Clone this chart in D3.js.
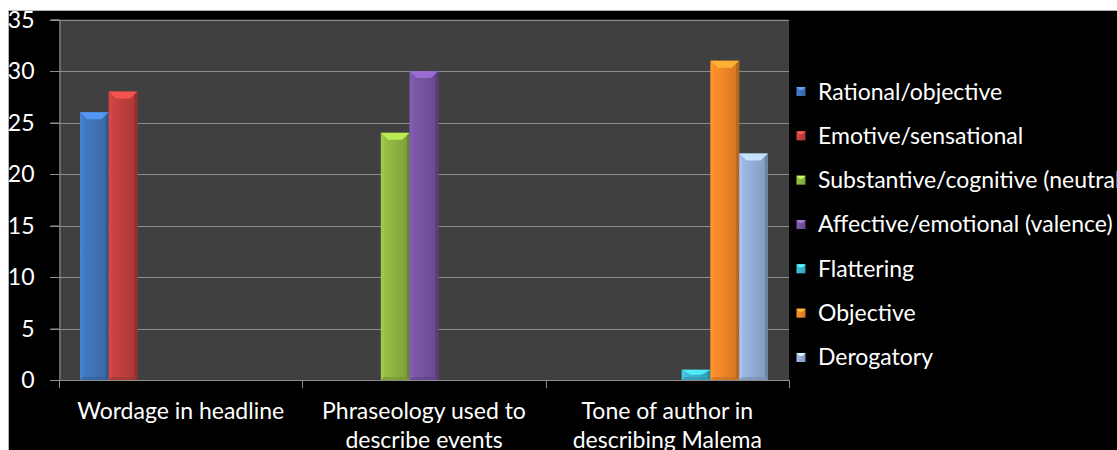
<!DOCTYPE html>
<html>
<head>
<meta charset="utf-8">
<script src="https://cdn.jsdelivr.net/npm/d3@7"></script>
<style>
  html, body { margin: 0; padding: 0; background: #fff; }
  svg { display: block; }
  text { font-family: Lato, "Open Sans", sans-serif; fill: #fff; }
</style>
</head>
<body>
<svg id="chart" width="1117" height="450"></svg>
<script>
// Categories (x-axis groups), each split into two lines
const categories = [
  ["Wordage in headline"],
  ["Phraseology used to", "describe events"],
  ["Tone of author in", "describing Malema"]
];
const categoryKeys = ["Wordage", "Phraseology", "Tone"];

// Series names (legend order)
const seriesNames = [
  "Rational/objective",
  "Emotive/sensational",
  "Substantive/cognitive (neutral)",
  "Affective/emotional (valence)",
  "Flattering",
  "Objective",
  "Derogatory"
];
const seriesColors = ["#3f73b8", "#bf3f3d", "#8db33f", "#7453a0", "#3cb2d0", "#ee8527", "#93acd6"];

// Values per series, one entry per category (null = no bar)
const rationalObjective    = [26, null, null];
const emotiveSensational   = [28, null, null];
const substantiveCognitive = [null, 24, null];
const affectiveEmotional   = [null, 30, null];
const flattering           = [null, null, 1];
const objective            = [null, null, 31];
const derogatory           = [null, null, 22];
const seriesValues = [rationalObjective, emotiveSensational, substantiveCognitive,
                      affectiveEmotional, flattering, objective, derogatory];

const yTicks = [0, 5, 10, 15, 20, 25, 30, 35];

const svg = d3.select("#chart");
const W = 1117, H = 450;
const FS = 23;

// black chart background framed by a thin grey border
svg.append("rect").attr("x", 8.5).attr("y", 10.5).attr("width", W).attr("height", H)
  .attr("fill", "#000").attr("stroke", "#b4b4b4").attr("stroke-width", 1);

const plot = { left: 59, right: 789, top: 19.5, bottom: 380 };

const y = d3.scaleLinear().domain([0, 35]).range([plot.bottom, plot.top]);
const x0 = d3.scaleBand().domain(categoryKeys).range([plot.left, plot.right]).padding(0);
const bw = x0.bandwidth();
const gap = 21;
const x1 = d3.scaleBand().domain(d3.range(seriesNames.length)).range([gap, bw - gap]).padding(0);

// plot area
svg.append("rect")
  .attr("x", plot.left).attr("y", plot.top)
  .attr("width", plot.right - plot.left).attr("height", plot.bottom - plot.top)
  .attr("fill", "#404040");

// horizontal gridlines
svg.append("g")
  .selectAll("line").data(yTicks.filter(t => t > 0)).join("line")
  .attr("x1", plot.left - 9).attr("x2", plot.right)
  .attr("y1", d => Math.round(y(d)) + 0.5).attr("y2", d => Math.round(y(d)) + 0.5)
  .attr("stroke", "#8e8e8e").attr("stroke-width", 1);

// y axis
const yAxis = svg.append("g").attr("transform", `translate(${plot.left + 0.5},0)`)
  .call(d3.axisLeft(y).tickValues(yTicks).tickSize(9).tickPadding(16));
yAxis.select(".domain").attr("stroke", "#8e8e8e");
yAxis.selectAll(".tick line").attr("stroke", "#8e8e8e");
yAxis.selectAll(".tick text").attr("font-size", FS).attr("fill", "#fff")
  .attr("font-family", "Lato, sans-serif").attr("dy", "0.34em");

// x axis with category boundary ticks
const xAxisG = svg.append("g");
xAxisG.append("line")
  .attr("x1", plot.left - 9).attr("x2", plot.right + 0.5)
  .attr("y1", plot.bottom + 0.5).attr("y2", plot.bottom + 0.5)
  .attr("stroke", "#8e8e8e");
const bounds = categoryKeys.map(k => x0(k)).concat([x0(categoryKeys[categoryKeys.length - 1]) + bw]);
xAxisG.selectAll("line.tk").data(bounds).join("line").attr("class", "tk")
  .attr("x1", d => Math.round(d) + 0.5).attr("x2", d => Math.round(d) + 0.5)
  .attr("y1", plot.bottom).attr("y2", plot.bottom + 8)
  .attr("stroke", "#8e8e8e");

// category labels
categoryKeys.forEach((k, i) => {
  const t = svg.append("text")
    .attr("x", x0(k) + bw / 2).attr("y", 419)
    .attr("text-anchor", "middle").attr("font-size", FS);
  categories[i].forEach((line, j) => {
    t.append("tspan").attr("x", x0(k) + bw / 2).attr("dy", j === 0 ? 0 : 29).text(line);
  });
});

// gradients for bevelled bars
const defs = svg.append("defs");
seriesColors.forEach((c, i) => {
  const g = defs.append("linearGradient").attr("id", "grad" + i)
    .attr("x1", "0%").attr("x2", "100%").attr("y1", "0%").attr("y2", "0%");
  const base = d3.color(c);
  g.append("stop").attr("offset", "0%").attr("stop-color", base.brighter(0.25));
  g.append("stop").attr("offset", "45%").attr("stop-color", base);
  g.append("stop").attr("offset", "100%").attr("stop-color", base.darker(0.35));
});

function bevelBar(sel, x, yTop, w, h, i) {
  const base = d3.color(seriesColors[i]);
  const b = Math.min(7, h / 2, w / 2);
  const g = sel.append("g").attr("transform", `translate(${x},${yTop})`);
  g.append("rect").attr("width", w).attr("height", h).attr("fill", `url(#grad${i})`);
  // top face
  g.append("path").attr("d", `M0,0 L${w},0 L${w / 2 + b},${b} L${w / 2 - b},${b} Z`)
    .attr("fill", base.brighter(0.9)).attr("opacity", 0.85);
  // left / right edges
  g.append("path").attr("d", `M0,0 L3,3 L3,${h - 3} L0,${h} Z`).attr("fill", base.brighter(0.4)).attr("opacity", 0.6);
  g.append("path").attr("d", `M${w},0 L${w - 3},3 L${w - 3},${h - 3} L${w},${h} Z`).attr("fill", base.darker(1)).attr("opacity", 0.7);
  // bottom edge
  g.append("path").attr("d", `M0,${h} L3,${h - 3} L${w - 3},${h - 3} L${w},${h} Z`).attr("fill", base.darker(0.6)).attr("opacity", 0.6);
}

const bars = svg.append("g");
seriesValues.forEach((vals, si) => {
  vals.forEach((v, ci) => {
    if (v == null) return;
    const k = categoryKeys[ci];
    const bx = x0(k) + x1(si);
    bevelBar(bars, bx, y(v), x1.bandwidth(), y(0) - y(v), si);
  });
});

// legend
const legend = svg.append("g");
const legY0 = 91.5, legStep = 44.33;
seriesNames.forEach((name, i) => {
  const cy = legY0 + i * legStep;
  const base = d3.color(seriesColors[i]);
  legend.append("rect").attr("x", 796.5).attr("y", cy - 4.5).attr("width", 9).attr("height", 9)
    .attr("fill", `url(#grad${i})`);
  legend.append("path").attr("d", `M796.5,${cy - 4.5} l9,0 l-3,3 l-3,0 Z`).attr("fill", base.brighter(1));
  legend.append("text").attr("x", 818).attr("y", cy + 8).attr("font-size", FS).text(name);
});
</script>
</body>
</html>
